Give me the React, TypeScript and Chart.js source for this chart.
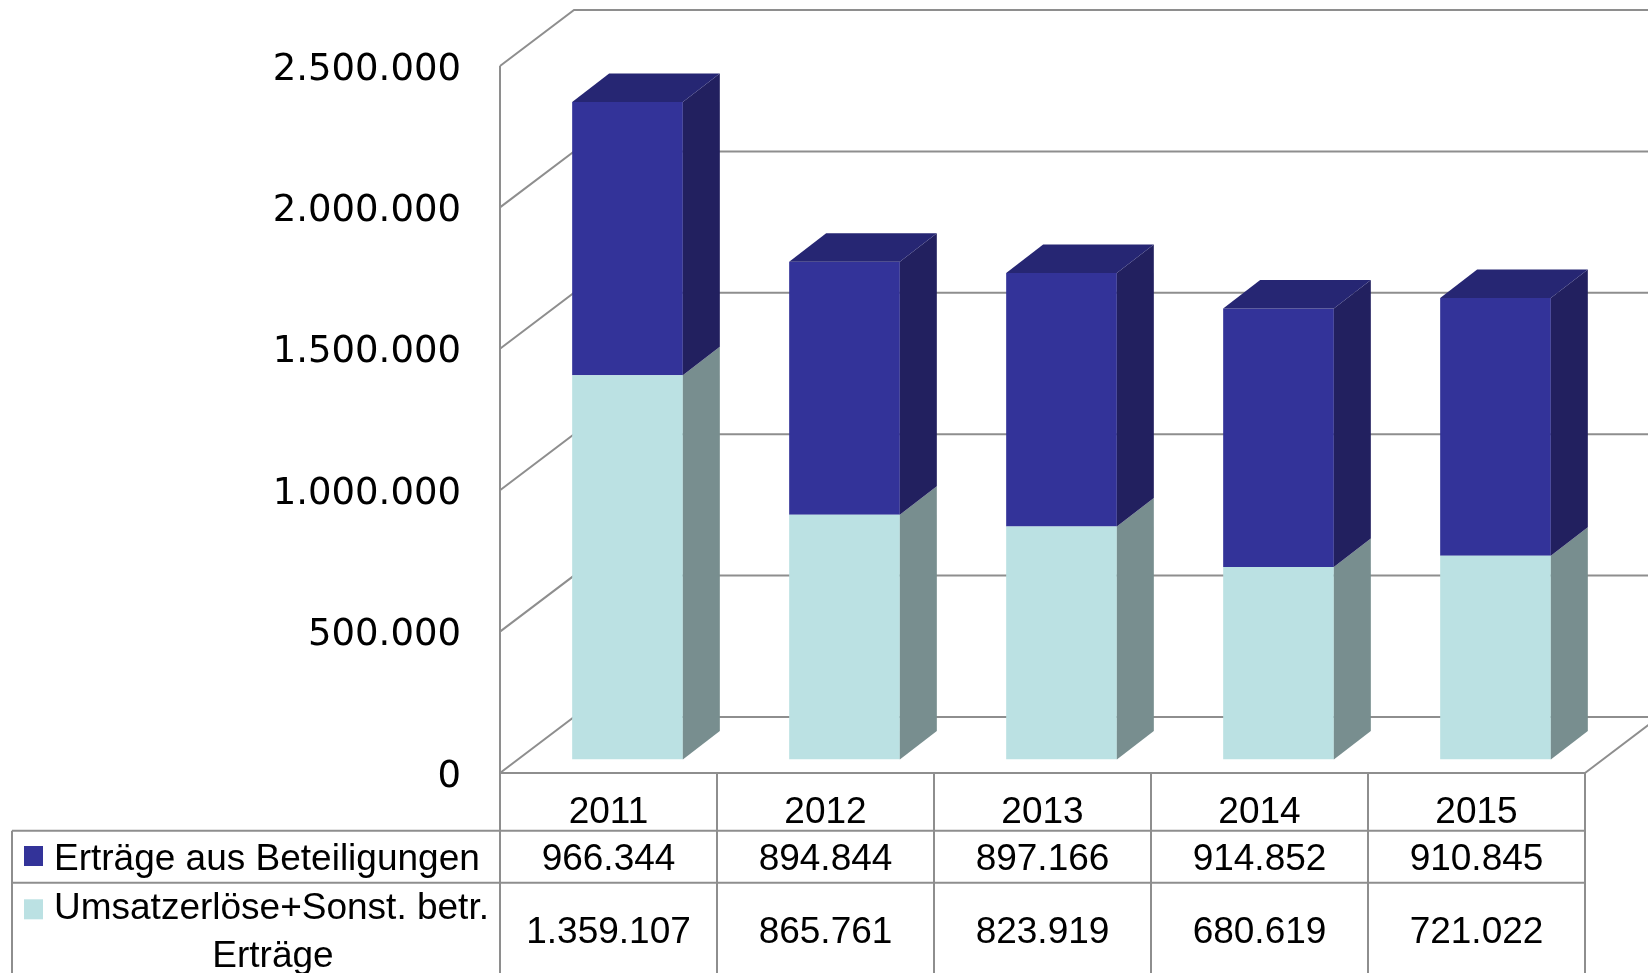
import React, { useEffect, useRef } from 'react';
import { Chart, registerables } from 'chart.js';

Chart.register(...registerables);

// ---- data ----
const years = ['2011', '2012', '2013', '2014', '2015'];
const ertraegeBeteiligungen = [966344, 894844, 897166, 914852, 910845];
const umsatzSonst = [1359107, 865761, 823919, 680619, 721022];
const yTicks = [0, 500000, 1000000, 1500000, 2000000, 2500000];
const seriesNames = ['Erträge aus Beteiligungen', 'Umsatzerlöse+Sonst. betr.', 'Erträge'];

// ---- styles ----
const DARK = '#333399';
const DARK_TOP = '#262673';
const DARK_SIDE = '#22205F';
const LIGHT = '#BBE1E3';
const LIGHT_SIDE = '#788E8F';
const GRID = '#8e8e8e';
const WALL_DEPTH = { dx: 74, dy: -56 };
const BAR_SHIFT = { x: 19, y: -13.4 };
const BAR_DEPTH = { dx: 37, dy: -28.5 };
const TABLE_FONT = '37px "Liberation Sans", Arial, sans-serif';

const fmt = (v: number) => String(v).replace(/\B(?=(\d{3})+(?!\d))/g, '.');

const threeDPlugin = {
  id: 'threeD',
  beforeDatasetsDraw(chart: any) {
    const { ctx, chartArea: a, scales } = chart;
    const y = scales.y;
    ctx.save();
    ctx.strokeStyle = GRID;
    ctx.lineWidth = 2;
    ctx.beginPath();
    for (const v of yTicks) {
      const py = y.getPixelForValue(v);
      ctx.moveTo(a.left, py);
      ctx.lineTo(a.left + WALL_DEPTH.dx, py + WALL_DEPTH.dy);
      ctx.lineTo(a.right + WALL_DEPTH.dx + 20, py + WALL_DEPTH.dy);
    }
    // floor right edge
    ctx.moveTo(a.right, a.bottom);
    ctx.lineTo(a.right + WALL_DEPTH.dx, a.bottom + WALL_DEPTH.dy);
    ctx.stroke();
    ctx.restore();
  },
  beforeDatasetDraw(chart: any) {
    chart.ctx.save();
    chart.ctx.translate(BAR_SHIFT.x, BAR_SHIFT.y);
  },
  afterDatasetDraw(chart: any) {
    chart.ctx.restore();
  },
  afterDatasetsDraw(chart: any) {
    const { ctx } = chart;
    const n = chart.data.datasets.length;
    ctx.save();
    for (let d = 0; d < n; d++) {
      const meta = chart.getDatasetMeta(d);
      const isTop = d === n - 1;
      meta.data.forEach((el: any) => {
        const p = el.getProps(['x', 'y', 'base', 'width'], true);
        const left = p.x - p.width / 2 + BAR_SHIFT.x;
        const right = p.x + p.width / 2 + BAR_SHIFT.x;
        const top = Math.min(p.y, p.base) + BAR_SHIFT.y;
        const bottom = Math.max(p.y, p.base) + BAR_SHIFT.y;
        // side face
        ctx.fillStyle = d === 0 ? LIGHT_SIDE : DARK_SIDE;
        ctx.beginPath();
        ctx.moveTo(right, top);
        ctx.lineTo(right + BAR_DEPTH.dx, top + BAR_DEPTH.dy);
        ctx.lineTo(right + BAR_DEPTH.dx, bottom + BAR_DEPTH.dy);
        ctx.lineTo(right, bottom);
        ctx.closePath();
        ctx.fill();
        if (isTop) {
          ctx.fillStyle = DARK_TOP;
          ctx.beginPath();
          ctx.moveTo(left, top);
          ctx.lineTo(left + BAR_DEPTH.dx, top + BAR_DEPTH.dy);
          ctx.lineTo(right + BAR_DEPTH.dx, top + BAR_DEPTH.dy);
          ctx.lineTo(right, top);
          ctx.closePath();
          ctx.fill();
        }
      });
    }
    ctx.restore();
  },
  afterDraw(chart: any) {
    const { ctx, chartArea: a, scales } = chart;
    const y = scales.y;
    const H = chart.height;
    const nCat = years.length;
    const colW = (a.right - a.left) / nCat;
    const tableLeft = 12;
    const row1Top = 830.7;
    const row2Top = 882.7;

    ctx.save();
    ctx.strokeStyle = GRID;
    ctx.lineWidth = 2;
    ctx.beginPath();
    // front axis (continues through table)
    ctx.moveTo(a.left, y.getPixelForValue(2500000));
    ctx.lineTo(a.left, H);
    // header top / floor front edge
    ctx.moveTo(a.left, a.bottom);
    ctx.lineTo(a.right, a.bottom);
    // row lines
    ctx.moveTo(tableLeft, row1Top);
    ctx.lineTo(a.right, row1Top);
    ctx.moveTo(tableLeft, row2Top);
    ctx.lineTo(a.right, row2Top);
    // left border
    ctx.moveTo(tableLeft, row1Top);
    ctx.lineTo(tableLeft, H);
    // column separators
    for (let i = 1; i <= nCat; i++) {
      const x = a.left + colW * i;
      ctx.moveTo(x, a.bottom);
      ctx.lineTo(x, H);
    }
    ctx.stroke();

    ctx.fillStyle = '#000';
    ctx.font = TABLE_FONT;
    ctx.textBaseline = 'alphabetic';
    ctx.textAlign = 'center';
    for (let i = 0; i < nCat; i++) {
      const cx = a.left + colW * (i + 0.5);
      ctx.fillText(years[i], cx, 823.3);
      ctx.fillText(fmt(ertraegeBeteiligungen[i]), cx, 870);
      ctx.fillText(fmt(umsatzSonst[i]), cx, 943.3);
    }

    // legend keys
    ctx.fillStyle = DARK;
    ctx.fillRect(24, 846, 19, 20);
    ctx.fillStyle = LIGHT;
    ctx.fillRect(24, 899.3, 19, 20);

    ctx.fillStyle = '#000';
    ctx.textAlign = 'left';
    ctx.fillText(seriesNames[0], 54, 870);
    ctx.fillText(seriesNames[1], 54, 919.3);
    ctx.textAlign = 'center';
    ctx.fillText(seriesNames[2], 273, 967);
    ctx.restore();
  },
};

export default function App() {
  const canvasRef = useRef<HTMLCanvasElement | null>(null);

  useEffect(() => {
    const canvas = canvasRef.current;
    if (!canvas) return;
    const chart = new Chart(canvas, {
      type: 'bar',
      data: {
        labels: years,
        datasets: [
          {
            label: seriesNames[1] + ' ' + seriesNames[2],
            data: umsatzSonst,
            backgroundColor: LIGHT,
            borderWidth: 0,
            barPercentage: 0.51,
            categoryPercentage: 1,
          },
          {
            label: seriesNames[0],
            data: ertraegeBeteiligungen,
            backgroundColor: DARK,
            borderWidth: 0,
            barPercentage: 0.51,
            categoryPercentage: 1,
          },
        ],
      },
      options: {
        responsive: false,
        maintainAspectRatio: false,
        animation: false,
        events: [],
        layout: { padding: { left: 0, right: 63, top: 66, bottom: 200 } },
        plugins: {
          legend: { display: false },
          tooltip: { enabled: false },
          title: { display: false },
        },
        scales: {
          x: {
            stacked: true,
            display: false,
          },
          y: {
            stacked: true,
            min: 0,
            max: 2500000,
            afterFit: (s: any) => {
              s.width = 500;
            },
            grid: { display: false, drawTicks: false },
            border: { display: false },
            ticks: {
              stepSize: 500000,
              padding: 39,
              labelOffset: 4,
              color: '#000',
              font: { family: '"DejaVu Sans"', size: 37 },
              callback: (v: any) => fmt(Number(v)),
            },
          },
        },
      },
      plugins: [threeDPlugin],
    });
    return () => chart.destroy();
  }, []);

  return (
    <div style={{ position: 'fixed', left: 0, top: 0, width: 1648, height: 973, background: '#fff' }}>
      <canvas ref={canvasRef} width={1648} height={973} style={{ display: 'block' }} />
    </div>
  );
}
